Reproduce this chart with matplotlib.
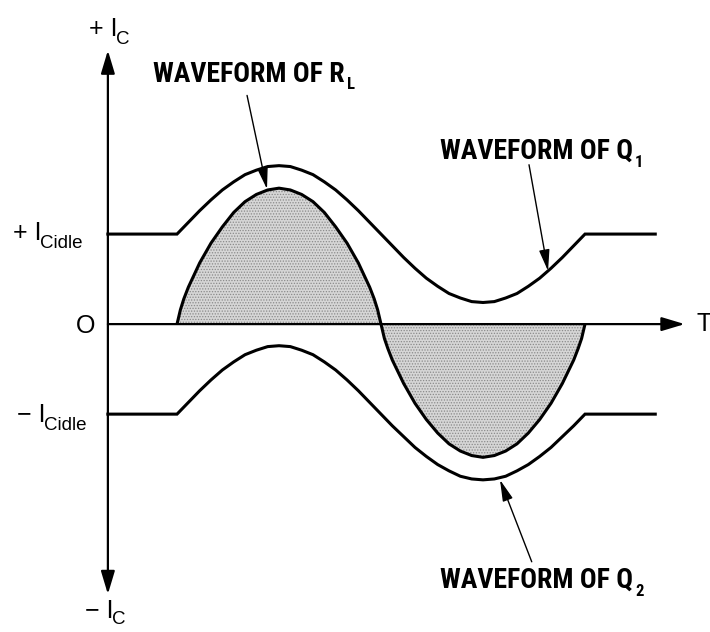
#!/usr/bin/env python3
"""Push-pull collector currents of Q1/Q2 and the load current in R_L."""

import matplotlib

matplotlib.use("Agg")
import matplotlib.pyplot as plt
from matplotlib import font_manager

plt.rcParams["hatch.linewidth"] = 0.6
plt.rcParams["hatch.color"] = "#8a8a8a"

# phase over one signal period (degrees), currents in units of I_Cidle
PHASE = [0, 10, 20, 30, 40, 50, 60, 70, 80, 90, 100, 110, 120, 130, 140, 150, 160, 170, 180,
         190, 200, 210, 220, 230, 240, 250, 260, 270, 280, 290, 300, 310, 320, 330, 340, 350, 360]
Q1 = [1.00, 1.13, 1.26, 1.38, 1.49, 1.58, 1.66, 1.71, 1.75, 1.76, 1.75, 1.71, 1.66, 1.58, 1.49, 1.38, 1.26, 1.13, 1.00,
      0.87, 0.74, 0.62, 0.51, 0.42, 0.34, 0.29, 0.25, 0.24, 0.25, 0.29, 0.34, 0.42, 0.51, 0.62, 0.74, 0.87, 1.00]
Q2 = [-1.00, -0.87, -0.74, -0.62, -0.51, -0.42, -0.34, -0.29, -0.25, -0.24, -0.25, -0.29, -0.34, -0.42, -0.51, -0.62, -0.74, -0.87, -1.00,
      -1.13, -1.25, -1.37, -1.47, -1.56, -1.63, -1.69, -1.72, -1.73, -1.72, -1.69, -1.63, -1.56, -1.47, -1.37, -1.25, -1.13, -1.00]

LOAD_PHASE = [0, 3, 6, 10, 20, 30, 40, 50, 60, 70, 80, 90, 100, 110, 120, 130, 140, 150, 160, 170, 174, 177, 180,
              183, 186, 190, 200, 210, 220, 230, 240, 250, 260, 270, 280, 290, 300, 310, 320, 330, 340, 350, 354, 357, 360]
LOAD = [0.00, 0.16, 0.28, 0.41, 0.68, 0.90, 1.08, 1.24, 1.36, 1.44, 1.49, 1.51, 1.49, 1.44, 1.36, 1.24, 1.08, 0.90, 0.68, 0.41, 0.28, 0.16, 0.00,
        -0.16, -0.27, -0.40, -0.66, -0.88, -1.06, -1.21, -1.33, -1.41, -1.46, -1.48, -1.46, -1.41, -1.33, -1.21, -1.06, -0.88, -0.66, -0.40, -0.27, -0.16, 0.00]

IDLE = 1.0
IDLE_PHASE = (-61, 422)      # flat idle parts before / after the signal
T_AXIS = (-61, 448)
I_AXIS = (-3.0, 3.04)

LABEL_RL = ("WAVEFORM OF R", "L")
LABEL_Q1 = ("WAVEFORM OF Q", "1")
LABEL_Q2 = ("WAVEFORM OF Q", "2")


def _pick(names):
    for name in names:
        try:
            font_manager.findfont(name, fallback_to_default=False)
            return name
        except ValueError:
            continue
    return "DejaVu Sans"


NARROW = _pick(["Liberation Sans Narrow", "Roboto Condensed", "Roboto"])
PLAIN = _pick(["Liberation Sans", "Arial", "DejaVu Sans"])


def sub_label(ax, x, y, main, sub, family, size, sub_size, weight="normal", dy=-5, dx=-1):
    t = ax.text(x, y, main, family=family, fontsize=size, fontweight=weight,
                ha="left", va="baseline")
    ax.annotate(sub, xy=(1, 0), xycoords=t, xytext=(dx, dy), textcoords="offset points",
                family=family, fontsize=sub_size, fontweight=weight, ha="left", va="bottom")
    return t


def pointer(ax, tail, tip):
    ax.annotate("", xy=tip, xytext=tail,
                arrowprops=dict(arrowstyle="-|>,head_length=1.3,head_width=0.32",
                                lw=1.0, color="black", shrinkA=0, shrinkB=0,
                                mutation_scale=10))


fig = plt.figure(figsize=(7.1, 6.32), dpi=100)
ax = fig.add_axes([0, 0, 1, 1])
ax.set_xlim(-156.2, 470.3)
ax.set_ylim(-3.42, 3.6)
ax.axis("off")

# axes
ax.annotate("", xy=(T_AXIS[0], I_AXIS[1]), xytext=(T_AXIS[0], I_AXIS[0]),
            arrowprops=dict(arrowstyle="<|-|>,head_length=1.4,head_width=0.42",
                            lw=1.6, color="black", shrinkA=0, shrinkB=0, mutation_scale=10))
ax.annotate("", xy=(T_AXIS[1], 0), xytext=(T_AXIS[0], 0),
            arrowprops=dict(arrowstyle="-|>,head_length=1.4,head_width=0.42",
                            lw=1.6, color="black", shrinkA=0, shrinkB=0, mutation_scale=10))

# load current (shaded)
ax.fill_between(LOAD_PHASE, LOAD, 0, facecolor="#d6d6d6", edgecolor="none", hatch="......", lw=0)
ax.plot(LOAD_PHASE, LOAD, color="black", lw=2.2, solid_capstyle="butt")

# collector currents with idle plateaus
q_t = [IDLE_PHASE[0]] + PHASE + [IDLE_PHASE[1]]
ax.plot(q_t, [IDLE] + Q1 + [IDLE], color="black", lw=2.2, solid_joinstyle="miter")
ax.plot(q_t, [-IDLE] + Q2 + [-IDLE], color="black", lw=2.2, solid_joinstyle="miter")

# axis labels
sub_label(ax, -77.6, 3.2, "+ I", "C", PLAIN, 18, 13.5)
sub_label(ax, -81.0, -3.27, "\u2212 I", "C", PLAIN, 18, 13.5, dy=-3)
sub_label(ax, -144.7, 0.93, "+ I", "Cidle", PLAIN, 18, 13.5)
sub_label(ax, -141.0, -1.09, "\u2212 I", "Cidle", PLAIN, 18, 13.5)
ax.text(-72, -0.1, "O", family=PLAIN, fontsize=18, ha="right", va="baseline")
ax.text(458, 0, "T", family=PLAIN, fontsize=18, ha="left", va="center")

# waveform callouts
sub_label(ax, -21, 2.69, *LABEL_RL, NARROW, 20, 12, weight="bold", dy=-3, dx=1.5)
sub_label(ax, 232, 1.84, *LABEL_Q1, NARROW, 20, 12, weight="bold", dy=-4, dx=1.5)
sub_label(ax, 232, -2.93, *LABEL_Q2, NARROW, 20, 12, weight="bold", dy=-4, dx=1.5)
pointer(ax, (61.8, 2.54), (79.4, 1.50))
pointer(ax, (310.6, 1.77), (327.4, 0.59))
pointer(ax, (313.0, -2.64), (285.0, -1.73))

fig.savefig("out.png", dpi=100)
plt.close(fig)
